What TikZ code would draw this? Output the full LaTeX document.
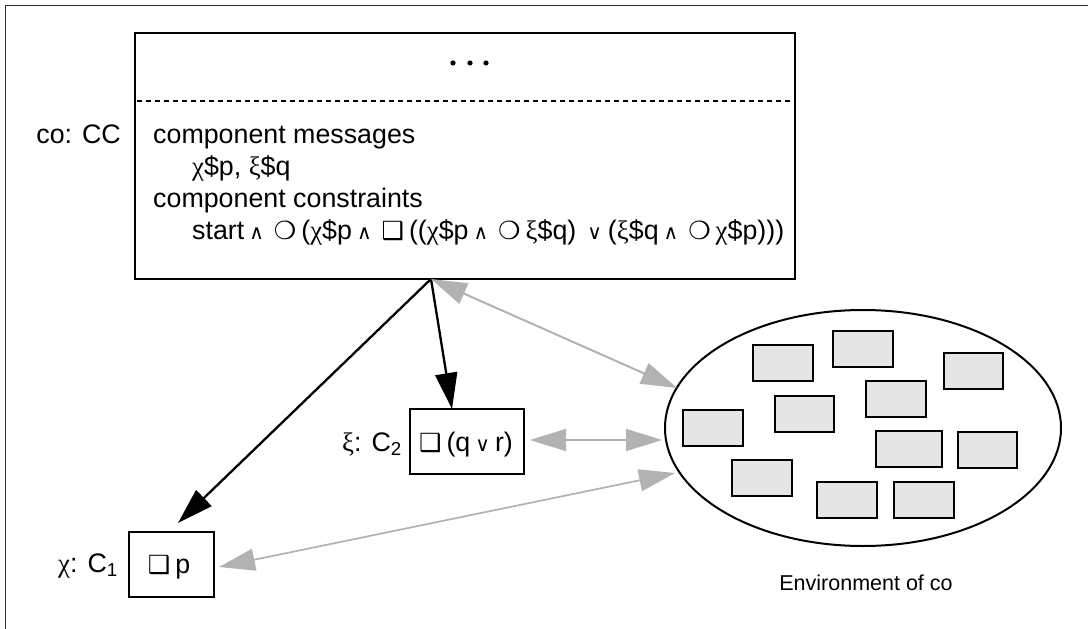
\documentclass[tikz,border=0pt]{standalone}
\usepackage{fontspec}
\setmainfont{Liberation Sans}
\newfontfamily\dv{DejaVu Sans}
\newfontfamily\gk{Liberation Serif}
\usetikzlibrary{arrows.meta,shapes.geometric}

% logic symbols: small and / or, shadowed "next" circle and "always" square
\newcommand\lAnd{\hspace{5pt}{\fontsize{20}{20}\dv ∧}\hspace{10pt}}
\newcommand\lOr{{\fontsize{20}{20}\dv ∨}}
\newcommand\lNext{{\fontsize{25}{25}\dv\bfseries ❍}\hspace{5pt}}
\newcommand\lAlw{{\fontsize{25}{25}\dv\bfseries ❑}\hspace{5pt}}
\newcommand\gChi{{\gk χ}}
\newcommand\gXi{{\gk ξ}}

\tikzset{
  txt/.style={inner sep=0, font=\fontsize{26.8}{26.8}\selectfont},
  comp/.style={draw, line width=2pt, inner sep=0},
  envbox/.style={draw, line width=2pt, fill=black!10, minimum width=59.5pt, minimum height=36pt, inner sep=0},
  blk/.style={line width=2.3pt, -{Triangle[length=36pt,width=22pt]}},
  gry/.style={line width=2pt, draw=black!30, {Triangle[length=36pt,width=22pt,fill=black!30]}-{Triangle[length=36pt,width=22pt,fill=black!30]}},
}

\begin{document}
\begin{tikzpicture}[x=1pt, y=-1pt]
\useasboundingbox (0,0) rectangle (1088,629);
% page frame (top and left edges)
\draw[line width=1pt, black!80] (5,629) -- (5,5) -- (1088,5);

% composite component
\node[comp, minimum width=660pt, minimum height=246pt, anchor=north west] (cc) at (134,32) {};
\draw[line width=1.6pt, dash pattern=on 5pt off 4pt] (137,101) -- (792,101);
\foreach \x in {453,470,486} \fill (\x,63) circle (2.6pt);
\node[txt, anchor=base west] (m1) at (153,143) {component messages};
\node[txt, anchor=base west] (m2) at (192,175) {\gChi\$p, \gXi\$q};
\node[txt, anchor=base west] (m3) at (153,207) {component constraints};
\node[txt, anchor=base west] (m4) at (192,239) {start\lAnd\lNext(\gChi\$p\lAnd\lAlw((\gChi\$p\lAnd\lNext\gXi\$q)\hspace{11pt}\lOr\hspace{6pt}(\gXi\$q\lAnd\lNext\gChi\$p)))};
\node[txt, anchor=base east] (lcc) at (121,143) {co: CC};

% sub-components
\node[comp, minimum width=85pt, minimum height=65pt, anchor=north west] (c1) at (128,531) {};
\node[txt, anchor=base] (t1) at (169,573) {\lAlw p};
\node[txt, anchor=base east] (l1) at (118,572) {\gChi: C\textsubscript{1}};

\node[comp, minimum width=114pt, minimum height=65pt, anchor=north west] (c2) at (409,408) {};
\node[txt, anchor=base] (t2) at (466,451) {\lAlw(q\hspace{5pt}\lOr\hspace{5pt}r)};
\node[txt, anchor=base east] (l2) at (402,451) {\gXi: C\textsubscript{2}};

% environment
\node[draw, line width=2pt, ellipse, minimum width=396pt, minimum height=236pt, inner sep=0] (env) at (863,428) {};
\node[envbox, anchor=north west] (e1) at (752,344) {};
\node[envbox, anchor=north west] (e2) at (832,330) {};
\node[envbox, anchor=north west] (e3) at (942.5,351.5) {};
\node[envbox, anchor=north west] (e4) at (865,380) {};
\node[envbox, anchor=north west] (e5) at (773.5,394.5) {};
\node[envbox, anchor=north west] (e6) at (682,409) {};
\node[envbox, anchor=north west, minimum width=66.5pt] (e7) at (874.5,430) {};
\node[envbox, anchor=north west] (e8) at (956.5,430.5) {};
\node[envbox, anchor=north west] (e9) at (731,459) {};
\node[envbox, anchor=north west] (e10) at (816,480.5) {};
\node[envbox, anchor=north west] (e11) at (893,480.5) {};
\node[inner sep=0, font=\fontsize{21.5}{21.5}\selectfont, anchor=base] (envl) at (866,590) {Environment of co};

% connector end points
\coordinate (src) at (431,279);
\coordinate (c1in) at (178,523);
\coordinate (c2in) at (452,409);
\coordinate (c1out) at (219,567);
\coordinate (c2out) at (530,440);
\coordinate (envA) at (677,388);
\coordinate (envB) at (662,440);
\coordinate (envC) at (675,473);

\draw[blk] (src) -- (c1in);
\draw[blk] (src) -- (c2in);
\draw[gry] (src) -- (envA);
\draw[gry] (c2out) -- (envB);
\draw[gry, line width=1.7pt] (c1out) -- (envC);
\end{tikzpicture}
\end{document}
